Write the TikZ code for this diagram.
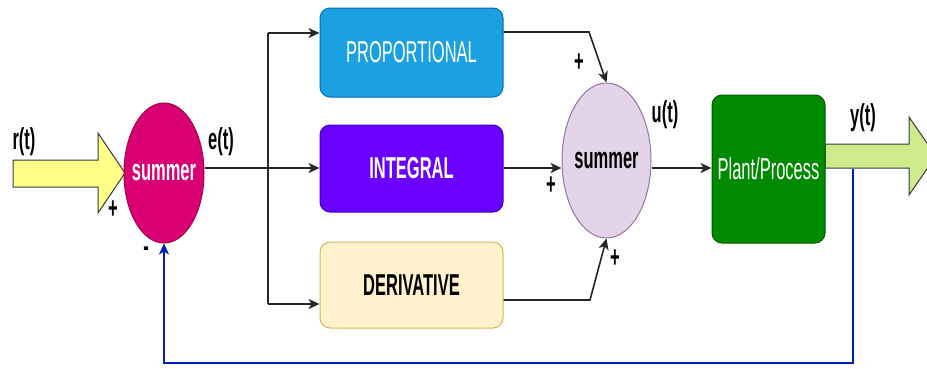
\documentclass[tikz,border=0pt]{standalone}
\usepackage{fontspec}
\setmainfont{Liberation Sans}
\usepackage{graphicx}
\usetikzlibrary{shapes.geometric,arrows.meta}
\newcommand{\vstr}[1]{\scalebox{1}[1.83]{#1}}
\definecolor{sumA}{HTML}{D80073}
\definecolor{sumAb}{HTML}{A50040}
\definecolor{sumB}{HTML}{E1D5E7}
\definecolor{sumBb}{HTML}{9673A6}
\definecolor{propC}{HTML}{1BA1E2}
\definecolor{propB}{HTML}{006EAF}
\definecolor{intC}{HTML}{6A00FF}
\definecolor{intB}{HTML}{3700CC}
\definecolor{derC}{HTML}{FFF2CC}
\definecolor{derB}{HTML}{D6B656}
\definecolor{plC}{HTML}{008A00}
\definecolor{plB}{HTML}{005700}
\definecolor{yelC}{HTML}{FFFF88}
\definecolor{grnC}{HTML}{CDEB8B}
\definecolor{arrB}{HTML}{36393D}
\definecolor{fbC}{HTML}{001DBC}
\tikzset{
  sumnode/.style={ellipse, draw, line width=1pt, inner sep=0pt},
  blk/.style={rectangle, rounded corners=10pt, draw, line width=1pt, inner sep=0pt, minimum width=183pt},
  conn/.style={line width=1.6pt, draw=black!85, -{Stealth[length=11pt,width=10pt,inset=3pt]}},
  plain/.style={line width=1.6pt, draw=black!85},
  txtn/.style={inner sep=0pt, font=\fontsize{16.5}{20}\selectfont},
  btxt/.style={inner sep=0pt, font=\fontsize{16.5}{20}\selectfont\bfseries},
  lbl/.style={inner sep=0pt, font=\fontsize{16.5}{20}\selectfont\bfseries},
  bigarrow/.style={draw=arrB, line width=1pt, line join=miter}
}
\begin{document}
\begin{tikzpicture}[x=1pt,y=-1pt]
\clip (0,0) rectangle (927,368);
\fill[white] (0,0) rectangle (927,368);

% big arrows
\draw[bigarrow, fill=yelC] (13,160) -- (98,160) -- (98,133) -- (125,173) -- (98,213) -- (98,187) -- (13,187) -- cycle;
\draw[bigarrow, fill=grnC] (825,144) -- (909,144) -- (909,117) -- (936,156) -- (909,195) -- (909,168) -- (825,168) -- cycle;

% nodes
\node[sumnode, fill=sumA, draw=sumAb, minimum width=80pt, minimum height=140pt] (s1) at (164,173) {};
\node[btxt, text=white] (s1t) at (s1.center) {\vstr{summer}};
\node[blk, fill=propC, draw=propB, minimum height=89pt, text=white, txtn] (prop) at (411.5,52.5) {\vstr{PROPORTIONAL}};
\node[blk, fill=intC, draw=intB, minimum height=87pt, text=white, btxt] (integ) at (411.5,168.5) {\vstr{INTEGRAL}};
\node[blk, fill=derC, draw=derB, minimum height=86pt, text=black, btxt] (deriv) at (411.5,285) {\vstr{DERIVATIVE}};
\node[sumnode, fill=sumB, draw=sumBb, minimum width=89pt, minimum height=155pt] (s2) at (606.5,160.5) {};
\node[btxt, text=black] (s2t) at (s2.center) {\vstr{summer}};
\node[blk, fill=plC, draw=plB, minimum width=113pt, minimum height=148pt, text=white, txtn] (plant) at (768.5,169) {\vstr{Plant/Process}};

% junction coordinates
\coordinate (j) at (268,168);
\coordinate (jt) at (268,33);
\coordinate (jb) at (268,304);
\coordinate (pb) at (589,32);
\coordinate (db) at (590,300);
\coordinate (fb) at (853,169);

% connectors
\draw[plain] (s1.east |- j) -- (j);
\draw[plain] (jt) -- (jb);
\draw[conn] (jt) -- (prop.west |- jt);
\draw[conn] (j) -- (integ.west |- j);
\draw[conn] (jb) -- (deriv.west |- jb);
\draw[conn] (prop.east |- pb) -- (pb) -- (s2.north);
\draw[conn] (integ.east |- j) -- (s2.west |- j);
\draw[conn] (deriv.east |- db) -- (db) -- (s2.south);
\draw[conn] (s2.east |- j) -- (plant.west |- j);
\draw[line width=1.3pt, draw=fbC, -{Stealth[length=11pt,width=10pt,inset=3pt]}] (fb) -- ++(0,194) -| (s1.south);

% labels
\node[lbl] (lr) at (24,142) {\vstr{r(t)}};
\node[lbl] (le) at (221,142) {\vstr{e(t)}};
\node[lbl] (lu) at (665,115) {\vstr{u(t)}};
\node[lbl] (ly) at (863,118) {\vstr{y(t)}};
\node[lbl] (p1) at (113,210) {\vstr{+}};
\node[lbl] (m1) at (146,252) {\vstr{-}};
\node[lbl] (p2) at (579,63) {\vstr{+}};
\node[lbl] (p3) at (551,186) {\vstr{+}};
\node[lbl] (p4) at (615,259) {\vstr{+}};
\end{tikzpicture}
\end{document}
